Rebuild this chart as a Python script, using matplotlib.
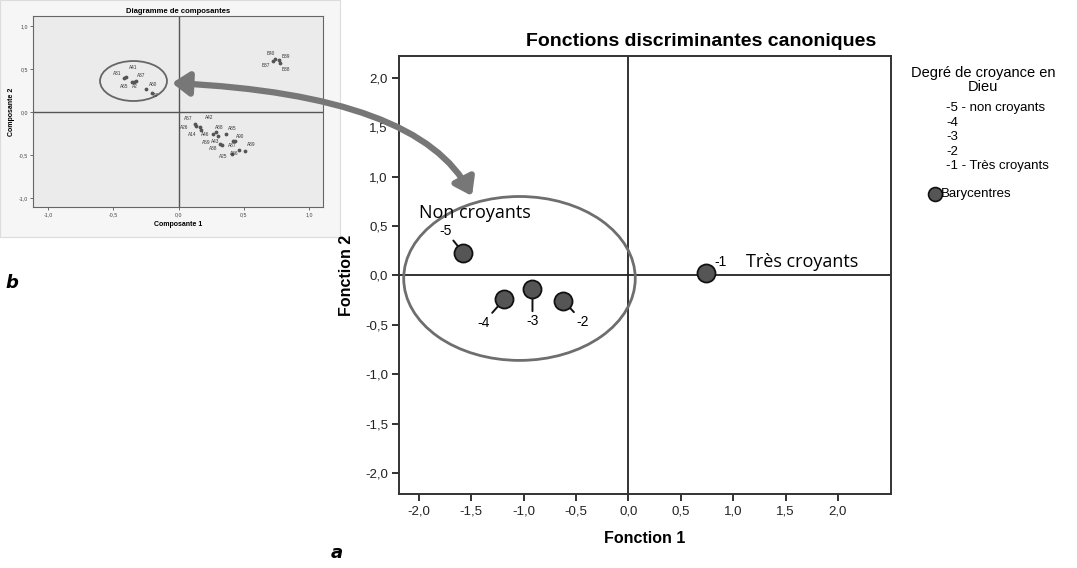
import matplotlib
matplotlib.use("Agg")
import matplotlib.pyplot as plt
from matplotlib.patches import Ellipse, FancyArrowPatch, Rectangle
from matplotlib.path import Path
from matplotlib.lines import Line2D

# ---------------- data ----------------
# main chart: group centroids (canonical discriminant functions)
groups = ["-5", "-4", "-3", "-2", "-1"]
func1 = [-1.575, -1.184, -0.916, -0.620, 0.745]
func2 = [0.228, -0.238, -0.137, -0.258, 0.025]
main_ticks = [-2.0, -1.5, -1.0, -0.5, 0.0, 0.5, 1.0, 1.5, 2.0]
legend_items = ["-5 - non croyants", "-4", "-3", "-2", "-1 - Très croyants"]

# inset: component plot
comp_labels = ["A41", "A31", "A37", "A65", "A2", "A60", "A7",
               "B40", "B39", "B37", "B38",
               "A57", "A42", "A26", "A14", "A46", "A88", "A43", "A85",
               "A90", "A59", "A87", "A38", "A89", "A86", "A25"]
comp1 = [-0.406, -0.421, -0.324, -0.355, -0.340, -0.248, -0.202,
         0.736, 0.769, 0.723, 0.779,
         0.123, 0.161, 0.135, 0.174, 0.263, 0.289, 0.301, 0.365,
         0.416, 0.314, 0.434, 0.335, 0.506, 0.467, 0.411]
comp2 = [0.403, 0.395, 0.357, 0.349, 0.349, 0.267, 0.221,
         0.616, 0.609, 0.589, 0.570,
         -0.136, -0.174, -0.167, -0.213, -0.252, -0.236, -0.275, -0.256,
         -0.341, -0.372, -0.341, -0.388, -0.457, -0.438, -0.484]
inset_ticks = [-1.0, -0.5, 0.0, 0.5, 1.0]

# label placement (points) for inset point labels
label_offsets = [(5.3, 7.2), (-4.8, 3.6), (3.6, 4.1), (-5.5, -3.6), (0.7, -3.6), (5.3, 3.6), (2.9, -1.7),
                 (-3.1, 3.6), (5.3, 1.9), (-4.8, -2.9), (3.8, -4.8),
                 (-4.8, 3.4), (6.7, 7.0), (-8.9, -0.7), (-6.7, -3.1), (-5.5, -0.6), (1.9, 3.1),
                 (-2.0, -4.0), (4.1, 3.6), (5.3, 3.6), (-9.6, 0.7), (-2.2, -3.1), (-6.7, -2.6),
                 (4.8, 4.6), (-4.1, -2.9), (-6.7, -1.9)]

W, H = 1077, 568
fig = plt.figure(figsize=(W / 100, H / 100), dpi=100)
fig.patch.set_facecolor("white")

def fx(px):
    return px / W

def fy(py):
    return 1 - py / H

def comma(v):
    return f"{v:.1f}".replace(".", ",")

FONT = "Liberation Sans"

# ---------------- inset (b) ----------------
fig.patches.append(Rectangle((0, fy(237)), fx(340), 237 / H, transform=fig.transFigure,
                             facecolor="#f6f6f6", edgecolor="#dcdcdc", lw=0.8, zorder=-5))
axb = fig.add_axes([fx(33), fy(207), fx(290), 191 / H])
axb.set_zorder(2)
axb.set_facecolor("#ebebeb")
axb.set_xlim(-1.115, 1.107)
axb.set_ylim(-1.105, 1.116)
axb.axvline(0, color="#555555", lw=1.0)
axb.axhline(0, color="#555555", lw=1.0)
axb.scatter(comp1, comp2, s=3, color="#555555", zorder=3)
for lab, x, y, off in zip(comp_labels, comp1, comp2, label_offsets):
    axb.annotate(lab, (x, y), xytext=off, textcoords="offset points",
                 fontsize=3.4, color="#333333", ha="center", va="center", family=FONT)
axb.add_patch(Ellipse((-0.345, 0.36), 0.513, 0.465, fill=False, edgecolor="#666666", lw=1.3))
axb.set_xticks(inset_ticks)
axb.set_yticks(inset_ticks)
axb.set_xticklabels([comma(t) for t in inset_ticks], fontsize=3.8, family=FONT, color="#444444")
axb.set_yticklabels([comma(t) for t in inset_ticks], fontsize=3.8, family=FONT, color="#444444")
axb.tick_params(length=2, width=0.6, pad=1.5, color="#555555")
for s in axb.spines.values():
    s.set_color("#666666")
    s.set_linewidth(0.8)
axb.set_title("Diagramme de composantes", fontsize=5.5, fontweight="bold", family=FONT, pad=2)
axb.set_xlabel("Composante 1", fontsize=5, fontweight="bold", family=FONT, labelpad=3)
axb.set_ylabel("Composante 2", fontsize=5, fontweight="bold", family=FONT, labelpad=3)

# ---------------- main chart (a) ----------------
ax = fig.add_axes([fx(399), fy(494), fx(492), 438 / H])
ax.set_xlim(-2.19, 2.506)
ax.set_ylim(-2.213, 2.223)
ax.axvline(0, color="#222222", lw=1.3, zorder=1)
ax.axhline(0, color="#222222", lw=1.3, zorder=1)
ax.add_patch(Ellipse((-1.04, -0.03), 2.21, 1.66, fill=False, edgecolor="#6e6e6e", lw=2.0, zorder=2))
ax.plot(func1, func2, "o", ms=13, mfc="#555555", mec="#111111", mew=1.3, zorder=6)

offsets = [(-13, 16), (-15, -17), (0, -23), (14, -15), (10, 8)]
for g, x, y, off in zip(groups, func1, func2, offsets):
    ax.annotate(g, (x, y), xytext=off, textcoords="offset points", fontsize=10,
                family=FONT, ha="center", va="center",
                arrowprops=dict(arrowstyle="-", color="#111111", lw=1.4, shrinkA=0, shrinkB=4),
                zorder=5)

ax.text(-2.0, 0.63, "Non croyants", fontsize=13, family="Open Sans", ha="left", va="center")
ax.text(1.12, 0.14, "Très croyants", fontsize=13, family="Open Sans", ha="left", va="center")

ax.set_xticks(main_ticks)
ax.set_yticks(main_ticks)
ax.set_xticklabels([comma(t) for t in main_ticks], fontsize=9.5, family=FONT, color="#222222")
ax.set_yticklabels([comma(t) for t in main_ticks], fontsize=9.5, family=FONT, color="#222222")
ax.tick_params(length=5, width=1.3, color="#222222", pad=3)
for s in ax.spines.values():
    s.set_color("#333333")
    s.set_linewidth(1.4)
ax.set_xlabel("Fonction 1", fontsize=11.5, fontweight="bold", family=FONT, labelpad=10)
ax.set_ylabel("Fonction 2", fontsize=11.5, fontweight="bold", family=FONT, labelpad=8)

fig.text(fx(701), fy(42), "Fonctions discriminantes canoniques", fontsize=14,
         fontweight="bold", family=FONT, ha="center", va="center")

# legend (manual, SPSS style)
fig.text(fx(983), fy(80), "Degré de croyance en\nDieu", fontsize=10.5, family=FONT,
         ha="center", va="center", linespacing=0.95)
for i, item in enumerate(legend_items):
    fig.text(fx(946), fy(108 + 14.6 * i), item, fontsize=9.5, family=FONT, ha="left", va="center")
fig.lines.append(Line2D([fx(935)], [fy(194)], marker="o", ms=10, mfc="#555555", mec="#111111",
                        mew=1.2, transform=fig.transFigure))
fig.text(fx(941), fy(194), "Barycentres", fontsize=9.5, family=FONT, ha="left", va="center")

# panel letters
fig.text(fx(12), fy(283), "b", fontsize=13, fontstyle="italic", fontweight="bold",
         family="DejaVu Sans", ha="center", va="center")
fig.text(fx(337), fy(553), "a", fontsize=13, fontstyle="italic", fontweight="bold",
         family="DejaVu Sans", ha="center", va="center")

# curved double-headed arrow linking the two panels
verts = [(fx(172), fy(83)), (fx(420), fy(95)), (fx(472), fy(196))]
path = Path(verts, [Path.MOVETO, Path.CURVE3, Path.CURVE3])
arrow = FancyArrowPatch(path=path, arrowstyle="<|-|>,head_length=10,head_width=7",
                        color="#777777", lw=4.5, transform=fig.transFigure, zorder=10)
fig.patches.append(arrow)

fig.savefig("out.png", dpi=100)
